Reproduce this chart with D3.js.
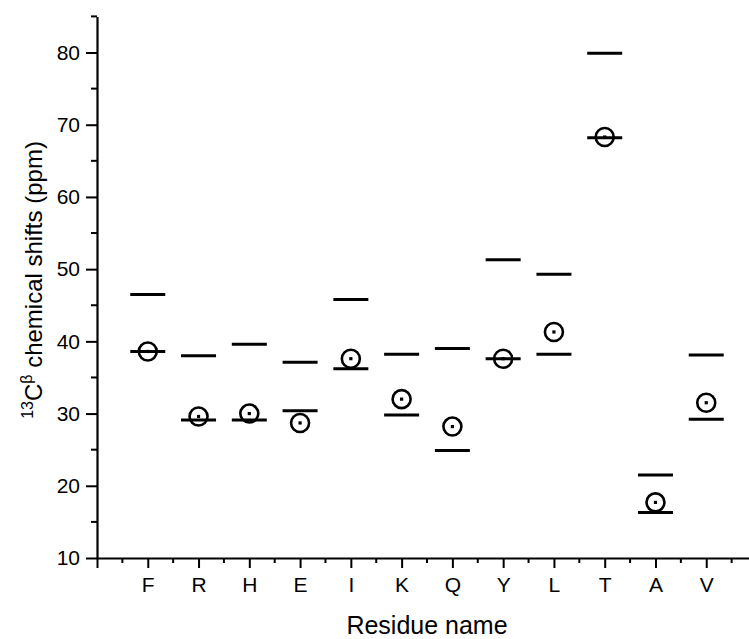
<!DOCTYPE html>
<html>
<head>
<meta charset="utf-8">
<script src="https://cdn.jsdelivr.net/npm/d3@7"></script>
<style>
  body { margin: 0; background: #fff; }
  text { font-family: "Liberation Sans", Arial, sans-serif; fill: #000; }
</style>
</head>
<body>
<svg id="drawing_region"></svg>
<script>
// residues on the x axis
const residues = ['F', 'R', 'H', 'E', 'I', 'K', 'Q', 'Y', 'L', 'T', 'A', 'V']
// upper and lower reference bars, and measured shifts (ppm)
const upperShift = [46.5, 38.0, 39.6, 37.1, 45.8, 38.2, 39.0, 51.3, 49.3, 79.9, 21.5, 38.1]
const lowerShift = [38.6, 29.1, 29.1, 30.4, 36.2, 29.8, 24.9, 37.6, 38.2, 68.2, 16.3, 29.2]
const observedShift = [38.6, 29.6, 30.0, 28.7, 37.6, 32.0, 28.2, 37.6, 41.3, 68.3, 17.7, 31.5]
const yTicks = [10, 20, 30, 40, 50, 60, 70, 80]

const svgWidth = 749, svgHeight = 639
const plotLeft = 97, plotBottom = 558, plotTop = 16.4

const svg = d3.select('#drawing_region')
  .attr('width', svgWidth)
  .attr('height', svgHeight)

const xscale = d3.scaleLinear().domain([0, 13]).range([plotLeft, plotLeft + 13 * 50.77])
const yscale = d3.scaleLinear().domain([10, 85]).range([plotBottom, plotTop])

const data = residues.map((r, i) => ({
  name: r, pos: i + 1,
  upper: upperShift[i], lower: lowerShift[i], obs: observedShift[i]
}))

// x axis: major ticks at integers, minor at halves
const xMajor = d3.range(0, 14)
const xMinor = d3.range(0.5, 13, 1)
const xaxis = d3.axisBottom(xscale)
  .tickValues(xMajor)
  .tickSize(10)
  .tickPadding(9)
  .tickSizeOuter(0)
  .tickFormat(d => (d >= 1 && d <= 12) ? residues[d - 1] : '')

const xg = svg.append('g').attr('transform', `translate(0,${plotBottom})`).call(xaxis)
xg.append('g').selectAll('line').data(xMinor).enter()
  .append('line')
  .attr('x1', d => xscale(d)).attr('x2', d => xscale(d))
  .attr('y1', 0).attr('y2', 5)
  .attr('stroke', '#000').attr('stroke-width', 2)

// y axis
const yaxis = d3.axisLeft(yscale)
  .tickValues(yTicks)
  .tickSize(11)
  .tickPadding(6)
  .tickSizeOuter(0)

const yg = svg.append('g').attr('transform', `translate(${plotLeft},0)`).call(yaxis)
yg.append('g').selectAll('line').data(d3.range(15, 90, 10)).enter()
  .append('line')
  .attr('x1', 0).attr('x2', -6)
  .attr('y1', d => yscale(d)).attr('y2', d => yscale(d))
  .attr('stroke', '#000').attr('stroke-width', 2)

svg.selectAll('.domain').attr('stroke', '#000').attr('stroke-width', 2.2)
svg.selectAll('.tick line').attr('stroke', '#000').attr('stroke-width', 2)
xg.selectAll('.tick text').style('font-size', '21px')
  .style('font-family', '"Liberation Sans", Arial, sans-serif')
yg.selectAll('.tick text').style('font-size', '21px')
  .style('font-family', '"Liberation Sans", Arial, sans-serif')

// axis titles
svg.append('text')
  .attr('x', 427).attr('y', 634)
  .attr('text-anchor', 'middle')
  .style('font-size', '25px')
  .text('Residue name')

const ylab = svg.append('text')
  .attr('transform', 'translate(42,280) rotate(-90)')
  .attr('text-anchor', 'middle')
  .style('font-size', '24px')
ylab.append('tspan').style('font-size', '16px').attr('dy', -9).text('13')
ylab.append('tspan').attr('dy', 9).text('C')
ylab.append('tspan').style('font-size', '16px').attr('dy', -10).text('β')
ylab.append('tspan').attr('dy', 10).text(' chemical shifts (ppm)')

// reference bars
const halfBar = 17.5
const bars = svg.append('g')
bars.selectAll('.upper').data(data).enter()
  .append('line').attr('class', 'upper')
  .attr('x1', d => xscale(d.pos) - halfBar).attr('x2', d => xscale(d.pos) + halfBar)
  .attr('y1', d => yscale(d.upper)).attr('y2', d => yscale(d.upper))
  .attr('stroke', '#000').attr('stroke-width', 3)
bars.selectAll('.lower').data(data).enter()
  .append('line').attr('class', 'lower')
  .attr('x1', d => xscale(d.pos) - halfBar).attr('x2', d => xscale(d.pos) + halfBar)
  .attr('y1', d => yscale(d.lower)).attr('y2', d => yscale(d.lower))
  .attr('stroke', '#000').attr('stroke-width', 3)

// observed shifts: circle with a centre dot
const pts = svg.append('g')
pts.selectAll('circle').data(data).enter()
  .append('circle')
  .attr('cx', d => xscale(d.pos))
  .attr('cy', d => yscale(d.obs))
  .attr('r', 9)
  .attr('fill', 'none')
  .attr('stroke', '#000')
  .attr('stroke-width', 2.6)
pts.selectAll('rect').data(data).enter()
  .append('rect')
  .attr('x', d => xscale(d.pos) - 1.6)
  .attr('y', d => yscale(d.obs) - 1.6)
  .attr('width', 3.2).attr('height', 3.2)
  .attr('fill', '#000')
</script>
</body>
</html>
